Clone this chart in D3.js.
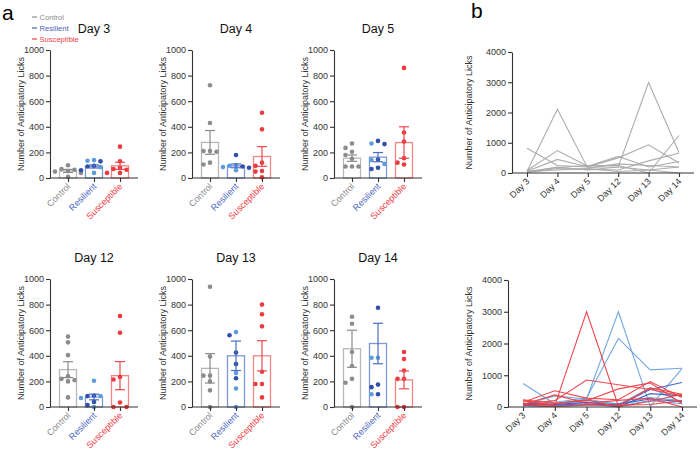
<!DOCTYPE html>
<html><head><meta charset="utf-8">
<script src="https://cdn.jsdelivr.net/npm/d3@7"></script>
<style>
body{margin:0;background:#fff;}
svg{display:block;}
text{font-family:"Liberation Sans",Arial,Helvetica,sans-serif;}
</style>
</head><body>
<svg id="chart" width="700" height="455"></svg>
<script>
// ---------- data ----------
const days = ["Day 3","Day 4","Day 5","Day 12","Day 13","Day 14"];
const groups = ["Control","Resilient","Susceptible"];
const yTicksA = [0,200,400,600,800,1000];
const yTicksB = [0,1000,2000,3000,4000];

// per-day individual points (panel a)
const controlDots = [
  [100,70,65,55,50,40,10],
  [725,430,210,205,210,105,120],
  [270,235,205,180,150,90,90,90],
  [550,505,405,240,210,220,200,75],
  [940,395,245,245,200,130,0],
  [705,650,430,320,220,190,0]
];
const resilientDarkDots = [
  [130,95,90,60],
  [180,80,90],
  [265,290,145,70,80],
  [90,85,40,15],
  [560,425,335,225],
  [775,100,155,175]
];
const resilientLightDots = [
  [140,135,85,40],
  [100,95,60,85],
  [270,140,110],
  [205,70,85,0],
  [585,265,145,0],
  [385,385,100]
];
const susceptibleDots = [
  [245,130,80,70,65,40,40],
  [510,380,120,95,55,50,5],
  [860,355,285,155,105,120],
  [710,580,235,215,35,0,0],
  [800,725,630,275,180,180,75],
  [430,375,285,220,220,0,0]
];
// bar heights (mean) and error (SEM)
const controlMean = [55,278,155,292,302,455];
const controlSem = [12,93,25,62,115,145];
const resilientMean = [90,95,163,78,400,496];
const resilientSem = [12,15,36,22,115,158];
const susceptibleMean = [95,168,277,245,400,212];
const susceptibleSem = [28,77,123,110,118,70];

// individual traces (panel b)
const controlTraces = [
  [820,250,200,200,100,200],
  [50,2110,160,300,250,200],
  [80,740,220,550,200,380],
  [60,450,200,500,930,330],
  [30,200,100,200,2990,680],
  [50,180,250,250,0,1240],
  [20,150,120,100,400,650],
  [40,100,150,50,100,0]
];
const resilientLightTraces = [
  [80,100,250,3000,20,1210],
  [60,150,280,2160,1170,1220],
  [740,100,200,100,300,200],
  [60,350,250,80,600,150],
  [100,60,140,30,200,100]
];
const resilientDarkTraces = [
  [120,80,150,50,550,770],
  [90,60,100,0,420,350],
  [40,20,70,90,250,170]
];
const susceptibleTraces = [
  [200,50,3000,30,600,400],
  [100,200,850,700,550,350],
  [150,510,280,230,800,300],
  [230,120,200,570,760,100],
  [80,380,120,210,280,0],
  [40,100,230,0,180,400],
  [60,20,60,60,80,200]
];

// ---------- styles ----------
const col = {
  Control:{dot:"#8c8c8c", bar:"#b8b8b8", err:"#8c8c8c", label:"#8c8c8c"},
  Resilient:{dot:"#2f4fa8", light:"#5e9ddb", bar:"#7f98d8", err:"#4b6cc2", label:"#4b66bd"},
  Susceptible:{dot:"#ee3a3f", bar:"#f28585", err:"#ea4a4f", label:"#ee3a3f"}
};
const axisColor = "#333";
const svg = d3.select("#chart");
const fmt = d3.format("d");

// panel labels
svg.append("text").attr("x",2).attr("y",20).attr("font-size",21).text("a");
svg.append("text").attr("x",471).attr("y",18).attr("font-size",21).text("b");

// legend
const legend = [["Control","#8c8c8c"],["Resilient","#4b5fb5"],["Susceptible","#ec3f44"]];
legend.forEach((l,i)=>{
  const yy = 17 + i*11;
  svg.append("line").attr("x1",32).attr("x2",37).attr("y1",yy).attr("y2",yy)
    .attr("stroke",l[1]).attr("stroke-width",1.2);
  svg.append("text").attr("x",39.5).attr("y",yy+2.7).attr("font-size",7.6)
    .attr("fill",l[1]).text(l[0]);
});

function swarm(items, y, cx){
  const placed = [];
  items.slice().sort((a,b)=>b.v-a.v).forEach(o=>{
    const yy = y(o.v);
    for (const off of [0,-6.5,6.5,-13,13,-19,19]) {
      if (placed.every(p=>Math.hypot(p.x-(cx+off), p.y-yy) >= 4.8)) {
        placed.push({x:cx+off, y:yy, c:o.c}); break;
      }
    }
  });
  return placed;
}

function styleAxis(a){
  a.selectAll("path,line").attr("stroke",axisColor).attr("stroke-width",1.1);
  a.selectAll("text").attr("fill","#333").attr("font-size",9).attr("font-family","Liberation Sans, Arial, sans-serif");
}

// ---------- panel a ----------
const W = 88, H = 128;
days.forEach((day,i)=>{
  const px = [50,192,334][i%3];
  const top = i<3 ? 50 : 279;
  const g = svg.append("g").attr("transform",`translate(${px},${top})`);
  const y = d3.scaleLinear().domain([0,1000]).range([H,0]);
  const x = d3.scalePoint().domain(groups).range([18,70]);
  const bw = 17;

  const info = {
    Control:{m:controlMean[i], s:controlSem[i], items:controlDots[i].map(v=>({v,c:col.Control.dot}))},
    Resilient:{m:resilientMean[i], s:resilientSem[i], items:resilientDarkDots[i].map(v=>({v,c:col.Resilient.dot}))
       .concat(resilientLightDots[i].map(v=>({v,c:col.Resilient.light})))},
    Susceptible:{m:susceptibleMean[i], s:susceptibleSem[i], items:susceptibleDots[i].map(v=>({v,c:col.Susceptible.dot}))}
  };

  groups.forEach(gr=>{
    const d = info[gr], cx = x(gr);
    g.append("rect").attr("x",cx-bw/2).attr("y",y(d.m)).attr("width",bw).attr("height",H-y(d.m))
      .attr("fill","none").attr("stroke",col[gr].bar).attr("stroke-width",1.3);
  });
  groups.forEach(gr=>{
    const d = info[gr], cx = x(gr);
    swarm(d.items, y, cx).forEach(p=>{
      g.append("circle").attr("cx",p.x).attr("cy",p.y).attr("r",2.3).attr("fill",p.c);
    });
  });
  groups.forEach(gr=>{
    const d = info[gr], cx = x(gr);
    const e = g.append("g").attr("stroke",col[gr].err).attr("stroke-width",1.2);
    e.append("line").attr("x1",cx).attr("x2",cx).attr("y1",y(d.m+d.s)).attr("y2",y(Math.max(0,d.m-d.s)));
    e.append("line").attr("x1",cx-5).attr("x2",cx+5).attr("y1",y(d.m+d.s)).attr("y2",y(d.m+d.s));
    e.append("line").attr("x1",cx-5).attr("x2",cx+5).attr("y1",y(Math.max(0,d.m-d.s))).attr("y2",y(Math.max(0,d.m-d.s)));
  });

  const ya = g.append("g").call(d3.axisLeft(y).tickValues(yTicksA).tickFormat(fmt).tickSize(4).tickPadding(2).tickSizeOuter(0));
  styleAxis(ya);
  const xa = g.append("g").attr("transform",`translate(0,${H})`)
    .call(d3.axisBottom(x).tickSize(4).tickFormat(""));
  xa.select(".domain").remove();
  styleAxis(xa);
  g.append("line").attr("x1",0).attr("x2",W).attr("y1",H).attr("y2",H).attr("stroke",axisColor).attr("stroke-width",1.1);

  groups.forEach(gr=>{
    g.append("text").attr("transform",`translate(${x(gr)+3},${H+9}) rotate(-45)`)
      .attr("text-anchor","end").attr("font-size",9).attr("fill",col[gr].label).text(gr);
  });
  g.append("text").attr("x",W/2).attr("y",-17).attr("text-anchor","middle").attr("font-size",12.5)
    .attr("fill","#111").text(day);
  g.append("text").attr("transform",`translate(-26,${H/2}) rotate(-90)`).attr("text-anchor","middle")
    .attr("font-size",9).attr("fill","#333").text("Number of Anticipatory Licks");
});

// ---------- panel b ----------
function drawB(px, top, w, h, r0, r1, sets){
  const g = svg.append("g").attr("transform",`translate(${px},${top})`);
  const y = d3.scaleLinear().domain([0,4000]).range([h,0]);
  const x = d3.scalePoint().domain(days).range([r0,r1]);
  const line = d3.line().x((d,k)=>x(days[k])).y(d=>y(d));
  sets.forEach(s=>{
    s.data.forEach(tr=>{
      g.append("path").attr("d",line(tr)).attr("fill","none").attr("stroke",s.color)
        .attr("stroke-width",1.1).attr("stroke-opacity",0.95);
    });
  });
  const ya = g.append("g").call(d3.axisLeft(y).tickValues(yTicksB).tickFormat(fmt).tickSize(4).tickPadding(2).tickSizeOuter(0));
  styleAxis(ya);
  const xa = g.append("g").attr("transform",`translate(0,${h})`).call(d3.axisBottom(x).tickSize(4).tickFormat(""));
  xa.select(".domain").remove();
  styleAxis(xa);
  g.append("line").attr("x1",0).attr("x2",w).attr("y1",h).attr("y2",h).attr("stroke",axisColor).attr("stroke-width",1.1);
  days.forEach(d=>{
    g.append("text").attr("transform",`translate(${x(d)+3},${h+9}) rotate(-45)`)
      .attr("text-anchor","end").attr("font-size",9).attr("fill","#333").text(d);
  });
  g.append("text").attr("transform",`translate(${472-px},${h/2}) rotate(-90)`).attr("text-anchor","middle")
    .attr("font-size",9).attr("fill","#333").text("Number of Anticipatory Licks");
}
drawB(512, 52, 182, 121, 15, 167, [{data:controlTraces, color:"#a9a9a9"}]);
drawB(508, 280, 189, 127, 15, 174, [
  {data:resilientLightTraces, color:"#6fa3dd"},
  {data:resilientDarkTraces, color:"#3d5fc0"},
  {data:susceptibleTraces, color:"#ec3f44"}
]);
</script>
</body></html>
